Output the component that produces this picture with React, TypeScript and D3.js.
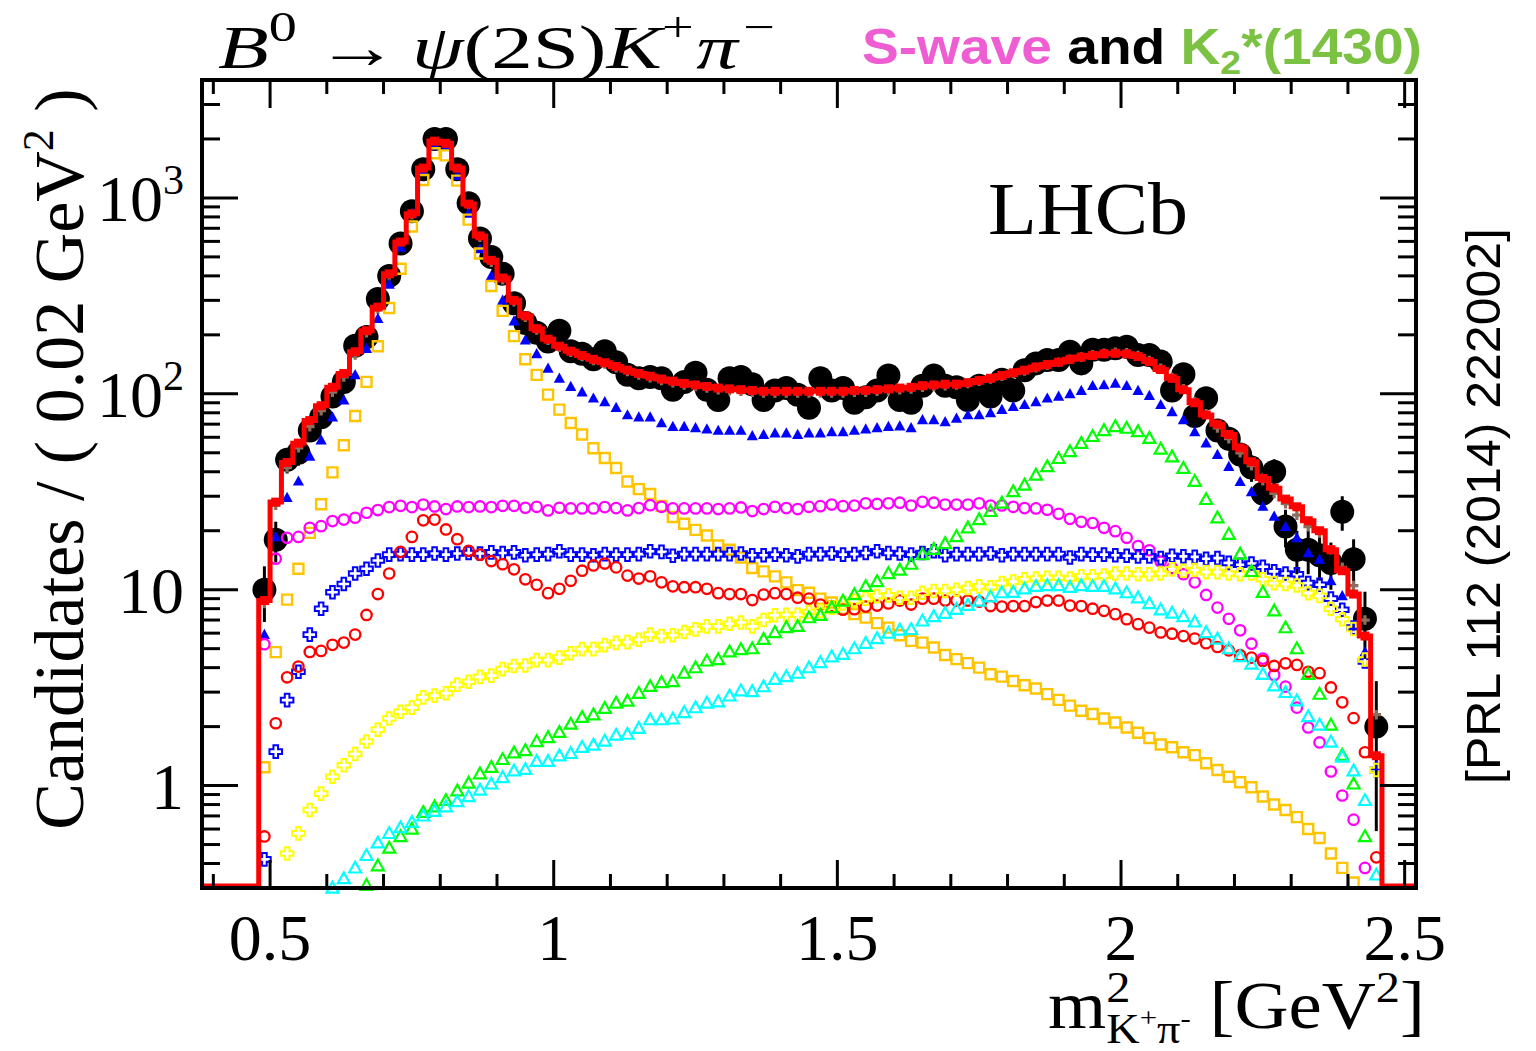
import React, { useEffect, useRef } from 'react'
import * as d3 from 'd3'

// m^2(K+ pi-) histogram: 0.02 GeV^2 bins, first lower edge at 0.48
const binEdgeLow = 0.48
const binWidth = 0.02

const dataCounts = [
  10, 18, 46, 50, 65, 76, 97, 115, 176, 195,
  305, 400, 585, 855, 1400, 2000, 2000, 1400, 940, 620,
  500, 410, 290, 230, 205, 185, 210, 165, 160, 150,
  165, 145, 125, 120, 122, 120, 105, 115, 128, 105,
  93, 120, 122, 112, 93, 104, 107, 99, 85, 120,
  104, 107, 90, 96, 104, 124, 93, 90, 110, 124,
  110, 108, 93, 110, 97, 118, 104, 132, 143, 149,
  149, 164, 143, 168, 168, 171, 174, 158, 158, 146,
  104, 126, 77, 95, 65, 59, 49, 42, 31, 40,
  21, 16, 16, 15, 13.7, 25, 14.3, 7.1, 2,
]

const totalFit = [
  8.8, 28, 44.6, 56, 73, 87, 108, 127, 164, 210,
  277, 410, 595, 830, 1420, 1950, 1900, 1420, 930, 640,
  480, 390, 300, 250, 215, 190, 175, 165, 157, 150,
  144, 138, 132, 127, 123, 119, 116, 113, 111, 109,
  107, 106, 105, 104, 103, 103, 103, 103, 103, 103,
  103, 103, 104, 104, 105, 106, 107, 108, 110, 111,
  112, 112, 114, 117, 120, 124, 128, 132, 137, 141,
  145, 150, 154, 157, 160, 161, 160, 155, 146, 133,
  120, 105, 90, 78, 70, 62, 53, 45, 37, 33,
  29, 26.5, 22.5, 20, 16, 12.5, 9.5, 5.8, 1.42,
]

const fitNoZ = [
  8.5, 27, 42, 53, 68, 82, 102, 122, 158, 205,
  270, 400, 585, 820, 1400, 1920, 1880, 1400, 920, 630,
  470, 382, 295, 246, 212, 188, 173, 163, 155, 148,
  142, 136, 130, 125, 121, 117, 114, 111, 109, 107,
  105, 104, 103, 102, 101, 101, 101, 101, 101, 101,
  101, 101, 102, 102, 103, 104, 105, 106, 108, 109,
  110, 111, 113, 116, 119, 123, 127, 131, 136, 140,
  145, 150, 154, 158, 161, 163, 162, 157, 148, 135,
  121, 106, 91, 79, 67, 59, 50, 43, 36, 31,
  27.5, 24, 21, 19.5, 16, 13, 10.5, 7.0, 2.3,
]

const blueFilledTri = [
  5.9, 18.6, 29.5, 35.8, 48, 58, 76, 93, 125, 170,
  242, 362, 560, 835, 1370, 1850, 1830, 1300, 835, 550,
  400, 300, 235, 188, 160, 135, 120, 109, 102, 95,
  91, 85, 78, 76, 76, 71, 68, 68, 67, 66,
  65, 65, 65, 61, 62, 63, 63, 62, 63, 63,
  64, 64, 65, 66, 67, 68, 68.5, 67, 73.7, 73.7,
  72, 75, 78, 78, 80, 83, 86, 88, 91, 95,
  97, 100, 104, 110, 111, 113, 110, 104, 98, 88,
  81, 73.7, 64, 56, 49, 42.5, 35.6, 31.6, 26.6, 23.7,
  21, 18.4, 15.4, 14.3, 11.1, 9.3, 6.5, 4.8, 1.26,
]

const kst892 = [
  1.24, 4.8, 8.9, 12.8, 19.5, 27.3, 39.7, 54.6, 77, 115,
  175, 274, 435, 715, 1235, 1690, 1650, 1225, 775, 520,
  355, 265, 197, 150, 125, 99, 83, 71, 62, 52.7,
  47, 41.8, 35.7, 32.6, 30.8, 26.8, 23.5, 21.7, 20.2, 18.9,
  16.8, 16, 14.6, 12.9, 12.4, 11.7, 10.9, 9.95, 9.65, 9.0,
  8.6, 8.0, 7.5, 7.2, 6.75, 6.4, 5.85, 5.48, 5.37, 5.07,
  4.64, 4.42, 4.22, 4.0, 3.7, 3.6, 3.42, 3.25, 3.13, 2.93,
  2.74, 2.56, 2.41, 2.32, 2.2, 2.1, 1.98, 1.86, 1.75, 1.62,
  1.57, 1.48, 1.43, 1.30, 1.2, 1.11, 1.04, 0.98, 0.88, 0.80,
  0.75, 0.69, 0.60, 0.54, 0.45, 0.38, 0.32, null, null,
]

const sWave = [
  5.27, 14.4, 18.4, 18.6, 20.7, 21.1, 22.4, 22.8, 23.3, 24.7,
  25.5, 26.4, 26.8, 26.4, 27.2, 26.6, 25.8, 26.6, 26.4, 26.6,
  26.4, 26.8, 26.8, 26.2, 26.5, 25.4, 26.2, 26, 26, 26,
  26.4, 26.1, 25.4, 26.1, 27, 26.5, 26, 26, 26, 26,
  25.8, 26, 26.3, 25.2, 25.8, 26.5, 26.1, 25.8, 26.5, 26.7,
  27.2, 26.7, 26.9, 27.6, 27.4, 27.6, 27.8, 26.9, 28.1, 27.8,
  27.2, 27.2, 27.2, 27.6, 26.9, 26.9, 26.5, 26.1, 26, 25.6,
  24.4, 23.0, 22.2, 21.9, 20.7, 19.9, 18.4, 16.7, 15.9, 13.9,
  12.9, 12.0, 10.9, 9.4, 8.1, 7.1, 6.2, 5.3, 4.45, 3.67,
  3.2, 2.5, 1.98, 1.66, 1.18, 0.89, 0.67, 0.38, null,
]

const blueOpenCross = [
  0.42, 1.49, 2.73, 3.81, 5.9, 8.0, 9.7, 10.7, 12.1, 12.8,
  14.1, 15.1, 15.2, 15.1, 15.1, 15.3, 15.1, 15.3, 15.4, 15.3,
  15.5, 15.4, 15.5, 15.0, 15.1, 15.2, 15.7, 15.1, 15.1, 15.0,
  15.2, 15.1, 15.1, 15.2, 15.7, 15.6, 14.9, 15.2, 15.2, 15.2,
  15.2, 15.2, 15.3, 15.0, 15.0, 15.1, 15.0, 14.8, 15.2, 15.2,
  15.3, 15.1, 15.2, 15.4, 15.7, 15.4, 15.3, 15.1, 15.4, 15.7,
  15.0, 15.2, 15.2, 15.2, 15.3, 15.0, 15.2, 15.2, 15.2, 15.2,
  15.2, 14.6, 15.2, 15.1, 15.1, 15.0, 14.9, 14.8, 14.8, 14.5,
  14.9, 14.8, 14.7, 14.4, 14.5, 13.7, 13.4, 13.6, 13.1, 12.4,
  12.1, 12.0, 10.8, 10.6, 9.0, 7.9, 6.4, 4.3, 1.2,
]

const redOpenCircle = [
  0.55, 2.08, 3.57, 4.05, 4.81, 4.87, 5.23, 5.37, 5.9, 7.43,
  9.5, 12.1, 15.6, 18.6, 22.6, 22.8, 20.3, 18.1, 15.8, 15.1,
  14.0, 13.5, 12.7, 11.3, 10.6, 9.6, 10.1, 11.1, 12.5, 13.3,
  13.6, 13.0, 11.8, 11.4, 11.7, 10.9, 10.4, 10.3, 10.3, 10.1,
  9.6, 9.5, 9.5, 8.85, 9.45, 9.6, 9.5, 9.1, 9.0, 8.4,
  8.25, 7.9, 7.95, 8.2, 8.3, 8.5, 8.8, 8.4, 9.0, 9.0,
  8.8, 8.8, 8.8, 8.7, 8.25, 8.2, 8.25, 8.25, 8.65, 8.8,
  8.8, 8.3, 8.25, 8.0, 7.8, 7.5, 7.07, 6.67, 6.4, 6.05,
  5.96, 5.8, 5.63, 5.33, 5.1, 4.9, 4.63, 4.5, 4.33, 4.08,
  4.21, 4.13, 3.81, 3.75, 3.17, 2.66, 2.21, 1.48, 0.43,
]

const yellowOpenCross = [
  null, null, 0.45, 0.57, 0.75, 0.91, 1.11, 1.27, 1.45, 1.68,
  1.93, 2.2, 2.38, 2.5, 2.82, 2.88, 2.96, 3.27, 3.39, 3.59,
  3.64, 3.93, 4.08, 4.1, 4.37, 4.37, 4.5, 4.74, 4.97, 4.97,
  5.21, 5.35, 5.4, 5.55, 5.9, 5.8, 5.85, 6.08, 6.27, 6.5,
  6.5, 6.7, 6.8, 6.5, 7.0, 7.4, 7.45, 7.45, 7.7, 7.8,
  8.1, 8.5, 8.75, 9.0, 9.27, 9.35, 9.1, 9.1, 9.65, 9.84,
  9.84, 10.0, 10.2, 10.4, 10.3, 10.8, 11.0, 11.3, 11.4, 11.5,
  11.5, 11.4, 11.7, 11.7, 11.8, 12.1, 12.1, 12.0, 12.0, 12.1,
  12.7, 12.5, 12.6, 12.3, 12.3, 12.1, 12.0, 12.1, 11.3, 10.8,
  10.7, 10.5, 9.6, 9.3, 8.0, 7.07, 6.3, 4.4, 1.2,
]

const k2st1430 = [
  null, null, null, null, null, null, null, null, null, 0.31,
  0.39, 0.48, 0.55, 0.60, 0.73, 0.78, 0.84, 0.94, 1.03, 1.15,
  1.24, 1.36, 1.47, 1.51, 1.68, 1.76, 1.87, 2.06, 2.23, 2.3,
  2.48, 2.64, 2.7, 2.96, 3.21, 3.36, 3.4, 3.75, 4.0, 4.33,
  4.4, 4.82, 4.95, 5.0, 5.58, 6.05, 6.41, 6.5, 7.2, 7.4,
  8.1, 8.75, 9.45, 10.4, 11.0, 12.1, 12.6, 13.5, 15.1, 16.1,
  17.2, 18.7, 20.7, 22.8, 25.1, 27.7, 31.7, 34.2, 38.5, 42.5,
  46.8, 50.8, 55.9, 60.6, 65.0, 68.1, 66.8, 64.2, 59.3, 52.3,
  47.7, 41.7, 35.8, 28.9, 23.3, 19.2, 15.2, 12.4, 9.7, 7.8,
  6.4, 5.0, 3.7, 2.93, 2.04, 1.43, 1.02, 0.55, null,
]

const cyanOpenTri = [
  null, null, null, null, null, null, 0.30, 0.335, 0.38, 0.44,
  0.51, 0.57, 0.61, 0.65, 0.70, 0.74, 0.78, 0.83, 0.88, 0.95,
  1.02, 1.10, 1.19, 1.21, 1.33, 1.33, 1.42, 1.46, 1.57, 1.61,
  1.69, 1.81, 1.83, 1.96, 2.17, 2.17, 2.19, 2.36, 2.5, 2.64,
  2.68, 2.87, 3.05, 3.02, 3.2, 3.49, 3.6, 3.75, 4.0, 4.25,
  4.55, 4.68, 5.0, 5.33, 5.63, 6.0, 6.23, 6.27, 6.93, 7.29,
  7.58, 7.95, 8.33, 8.76, 9.21, 9.66, 9.7, 10.1, 10.4, 10.5,
  10.5, 10.3, 10.5, 10.4, 10.4, 10.1, 9.66, 9.1, 8.5, 7.9,
  7.6, 7.3, 6.85, 6.05, 5.6, 5.0, 4.56, 4.17, 3.7, 3.23,
  2.99, 2.71, 2.25, 2.04, 1.67, 1.4, 1.19, 0.84, 0.35,
]

const xTickLabels = ['0.5', '1', '1.5', '2', '2.5']
const xMajorTicks = [0.5, 1, 1.5, 2, 2.5]
const yMajorTicks = [1, 10, 100, 1000]

const serif = '"Liberation Serif", "Times New Roman", Times, serif'
const sans = '"Liberation Sans", Arial, Helvetica, sans-serif'

type Part = { t: string; size: number; dy?: number; dx?: number; italic?: boolean; bold?: boolean; fill?: string }

// lay out pieces of text one after another, returns total width
function chain(g: any, parts: Part[], family: string) {
  let cx = 0
  parts.forEach(p => {
    const t = g
      .append('text')
      .attr('x', cx + (p.dx || 0))
      .attr('y', p.dy || 0)
      .attr('font-family', family)
      .attr('font-size', p.size)
      .attr('font-style', p.italic ? 'italic' : 'normal')
      .attr('font-weight', p.bold ? 'bold' : 'normal')
      .attr('fill', p.fill || '#000')
      .style('white-space', 'pre')
      .text(p.t)
    cx += (p.dx || 0) + (t.node() as SVGTextElement).getComputedTextLength()
  })
  return cx
}

// chain, then stretch horizontally to a given width
function fitChain(g: any, parts: Part[], family: string, width: number) {
  const inner = g.append('g')
  const w = chain(inner, parts, family)
  inner.attr('transform', `scale(${width / w},1)`)
}

function markerPath(kind: string) {
  const r = 5.2
  switch (kind) {
    case 'circle':
      return `M${-r},0a${r},${r} 0 1,0 ${2 * r},0a${r},${r} 0 1,0 ${-2 * r},0Z`
    case 'square':
      return 'M-5,-5h10v10h-10Z'
    case 'triangle':
      return 'M0,-6.2L6,4.6L-6,4.6Z'
    case 'ftriangle':
      return 'M0,-5.8L5.6,4.4L-5.6,4.4Z'
    case 'cross': {
      const a = 2.3
      const s = 6.3
      return `M${-a},${-s}H${a}V${-a}H${s}V${a}H${a}V${s}H${-a}V${a}H${-s}V${-a}H${-a}Z`
    }
    case 'smallcross': {
      const a = 1.6
      const s = 4.8
      return `M${-a},${-s}H${a}V${-a}H${s}V${a}H${a}V${s}H${-a}V${a}H${-s}V${-a}H${-a}Z`
    }
    default:
      return ''
  }
}

export default function App() {
  const ref = useRef<SVGSVGElement>(null)

  useEffect(() => {
    const svg = d3.select(ref.current)
    svg.selectAll('*').remove()

    const left = 202
    const right = 1416
    const top = 80
    const bottom = 888

    const x = d3.scaleLinear().domain([0.38, 2.52]).range([left, right])
    const y = d3.scaleLog().domain([0.3, 4000]).range([bottom, top])
    const centres = dataCounts.map((_, i) => binEdgeLow + binWidth * (i + 0.5))
    const inRange = (v: number | null) => v !== null && v >= 0.3 && v <= 4000

    svg.append('rect').attr('width', 1536).attr('height', 1051).attr('fill', '#fff')

    // data points with Poisson errors
    const gData = svg.append('g')
    dataCounts.forEach((n, i) => {
      const e = Math.sqrt(n)
      gData
        .append('line')
        .attr('x1', x(centres[i]))
        .attr('x2', x(centres[i]))
        .attr('y1', y(Math.max(n - e, 0.3)))
        .attr('y2', y(n + e))
        .attr('stroke', '#000')
        .attr('stroke-width', 3)
      gData
        .append('circle')
        .attr('cx', x(centres[i]))
        .attr('cy', y(n))
        .attr('r', 12)
        .attr('fill', '#000')
    })

    const drawSeries = (values: (number | null)[], kind: string, color: string, filled: boolean, sw = 2) => {
      const g = svg.append('g')
      values.forEach((v, i) => {
        if (!inRange(v)) return
        g.append('path')
          .attr('d', markerPath(kind))
          .attr('transform', `translate(${x(centres[i])},${y(v as number)})`)
          .attr('fill', filled ? color : 'none')
          .attr('stroke', filled ? 'none' : color)
          .attr('stroke-width', sw)
      })
    }

    drawSeries(fitNoZ, 'smallcross', '#8b6f5e', true)
    drawSeries(blueFilledTri, 'ftriangle', '#0000ff', true)
    drawSeries(kst892, 'square', '#ffc400', false, 2.4)
    drawSeries(sWave, 'circle', '#ff00ff', false, 2.3)
    drawSeries(blueOpenCross, 'cross', '#0000ff', false, 2)
    drawSeries(redOpenCircle, 'circle', '#ff0000', false, 2.3)
    drawSeries(yellowOpenCross, 'cross', '#ffff00', false, 2)
    drawSeries(k2st1430, 'triangle', '#00ff00', false, 2.2)
    drawSeries(cyanOpenTri, 'triangle', '#00ffff', false, 2.2)

    // total fit as a step histogram
    const floor = bottom - 2
    const steps: [number, number][] = [[0.38, floor]]
    totalFit.forEach((v, i) => steps.push([binEdgeLow + binWidth * i, y(v)]))
    steps.push([binEdgeLow + binWidth * totalFit.length, floor])
    steps.push([2.52, floor])
    const stepLine = d3
      .line<[number, number]>()
      .x(d => x(d[0]))
      .y(d => d[1])
      .curve(d3.curveStepAfter)
    svg
      .append('path')
      .attr('d', stepLine(steps))
      .attr('fill', 'none')
      .attr('stroke', '#ff0000')
      .attr('stroke-width', 5)
    totalFit.forEach((v, i) => {
      svg
        .append('rect')
        .attr('x', x(centres[i]) - 4.5)
        .attr('y', y(v) - 4.5)
        .attr('width', 9)
        .attr('height', 9)
        .attr('fill', '#ff0000')
    })

    // frame and ticks
    const axes = svg.append('g').attr('stroke', '#000')
    axes
      .append('rect')
      .attr('x', left)
      .attr('y', top)
      .attr('width', right - left)
      .attr('height', bottom - top)
      .attr('fill', 'none')
      .attr('stroke-width', 4)

    const xMinor = d3.range(4, 26).map(k => k / 10)
    xMinor.forEach(v => {
      const major = xMajorTicks.some(m => Math.abs(m - v) < 1e-6)
      const len = major ? 28 : 14
      axes.append('line').attr('x1', x(v)).attr('x2', x(v)).attr('y1', bottom).attr('y2', bottom - len).attr('stroke-width', 3)
      axes.append('line').attr('x1', x(v)).attr('x2', x(v)).attr('y1', top).attr('y2', top + len).attr('stroke-width', 3)
    })

    const yTicks: number[] = []
    ;[0.1, 1, 10, 100, 1000].forEach(dec => {
      for (let k = 1; k <= 9; k++) {
        const v = dec * k
        if (v >= 0.3 && v <= 4000) yTicks.push(v)
      }
    })
    yTicks.forEach(v => {
      const major = yMajorTicks.includes(v)
      const len = major ? 36 : 18
      axes.append('line').attr('x1', left).attr('x2', left + len).attr('y1', y(v)).attr('y2', y(v)).attr('stroke-width', 3)
      axes.append('line').attr('x1', right).attr('x2', right - len).attr('y1', y(v)).attr('y2', y(v)).attr('stroke-width', 3)
    })

    // x tick labels
    xMajorTicks.forEach((v, i) => {
      svg
        .append('text')
        .attr('x', x(v))
        .attr('y', 960)
        .attr('text-anchor', 'middle')
        .attr('font-family', serif)
        .attr('font-size', 66)
        .text(xTickLabels[i])
    })

    // y tick labels
    const yLabelParts: Part[][] = [
      [{ t: '1', size: 66 }],
      [{ t: '10', size: 66 }],
      [{ t: '10', size: 66 }, { t: '2', size: 42, dy: -27 }],
      [{ t: '10', size: 66 }, { t: '3', size: 42, dy: -27 }],
    ]
    yMajorTicks.forEach((v, i) => {
      const g = svg.append('g')
      const w = chain(g, yLabelParts[i], serif)
      g.attr('transform', `translate(${184 - w},${y(v) + 23})`)
    })

    // y axis title
    const yt = svg
      .append('text')
      .attr('transform', 'translate(83,459) rotate(-90)')
      .attr('text-anchor', 'middle')
      .attr('font-family', serif)
      .attr('font-size', 70)
    yt.append('tspan').text('Candidates / ( 0.02 GeV')
    yt.append('tspan').attr('font-size', 44).attr('dy', -30).text('2')
    yt.append('tspan').attr('dy', 30).text(' )')

    // x axis title: m^2_{K+pi-} [GeV^2]
    const gx = svg.append('g').attr('transform', 'translate(1048,1028)')
    fitChain(
      gx,
      [
        { t: 'm', size: 68 },
        { t: '2', size: 44, dy: -26 },
        { t: 'K', size: 42, dy: 15, dx: -22 },
        { t: '+', size: 28, dy: -1 },
        { t: 'π', size: 42, dy: 15 },
        { t: '-', size: 28, dy: -1 },
        { t: ' [GeV', size: 68 },
        { t: '2', size: 44, dy: -26 },
        { t: ']', size: 68 },
      ],
      serif,
      377,
    )

    // title
    const gt = svg.append('g').attr('transform', 'translate(218,68)')
    fitChain(
      gt,
      [
        { t: 'B', size: 62, italic: true },
        { t: '0', size: 42, dy: -27 },
        { t: '→', size: 62, dx: 14 },
        { t: 'ψ', size: 62, italic: true, dx: 10 },
        { t: '(2S)', size: 62 },
        { t: 'K', size: 62, italic: true },
        { t: '+', size: 42, dy: -27 },
        { t: 'π', size: 62, italic: true, dx: 2 },
        { t: '−', size: 42, dy: -27, dx: 4 },
      ],
      serif,
      557,
    )

    // legend text
    const gl = svg.append('g').attr('transform', 'translate(862,64)')
    fitChain(
      gl,
      [
        { t: 'S-wave', size: 50, bold: true, fill: '#ee5ed2' },
        { t: ' and ', size: 50, bold: true },
        { t: 'K', size: 50, bold: true, fill: '#7cc242' },
        { t: '2', size: 34, bold: true, dy: 10, fill: '#7cc242' },
        { t: '*(1430)', size: 50, bold: true, fill: '#7cc242' },
      ],
      sans,
      560,
    )

    svg
      .append('text')
      .attr('x', 988)
      .attr('y', 234)
      .attr('font-family', serif)
      .attr('font-size', 74)
      .attr('textLength', 200)
      .attr('lengthAdjust', 'spacingAndGlyphs')
      .text('LHCb')

    svg
      .append('text')
      .attr('transform', 'translate(1500,506) rotate(-90)')
      .attr('text-anchor', 'middle')
      .attr('font-family', sans)
      .attr('font-size', 48)
      .attr('textLength', 556)
      .attr('lengthAdjust', 'spacingAndGlyphs')
      .text('[PRL 112 (2014) 222002]')
  }, [])

  return (
    <svg
      ref={ref}
      width={1536}
      height={1051}
      style={{ position: 'absolute', left: 0, top: 0, display: 'block' }}
    />
  )
}
